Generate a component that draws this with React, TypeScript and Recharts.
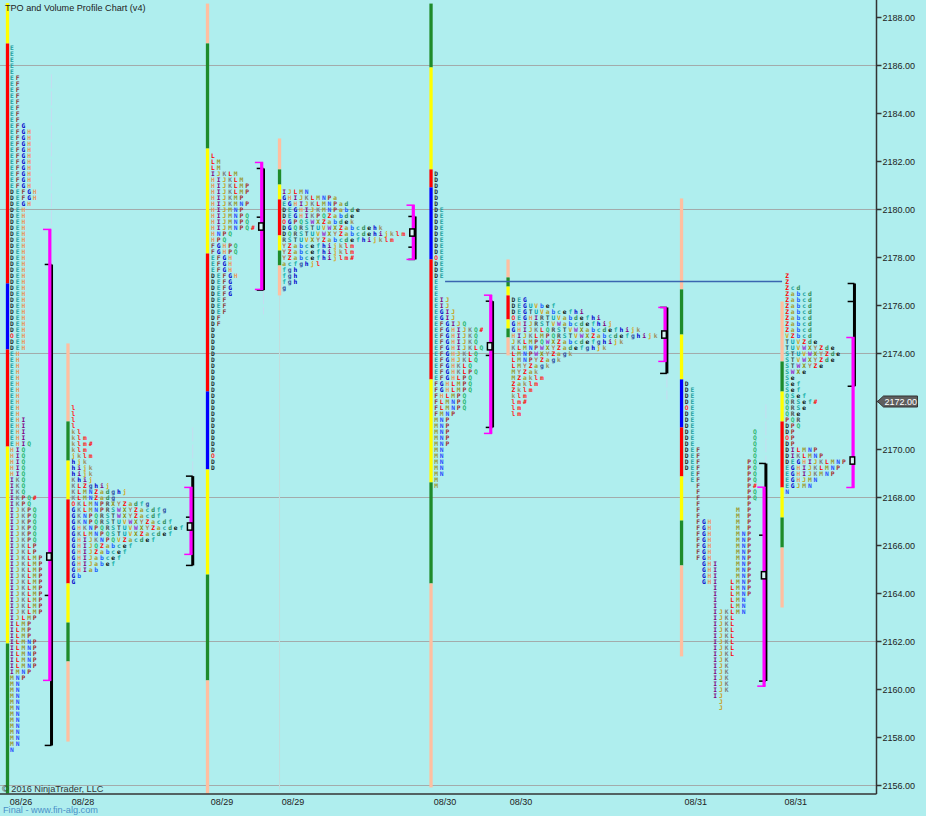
import React from "react";
import {
  ComposedChart,
  Line,
  ReferenceLine,
  Scatter,
  XAxis,
  YAxis,
} from "recharts";

const PEACH = "#FFBFA0";
const GREEN = "#1E8B2A";
const YELLOW = "#FFFF00";
const RED = "#FF0000";
const BLUE = "#0000FF";

const priceTicks = [
  2156, 2158, 2160, 2162, 2164, 2166, 2168, 2170, 2172, 2174, 2176, 2178, 2180,
  2182, 2184, 2186, 2188,
];
const gridPrices = [2156, 2162, 2168, 2174, 2180, 2186];
const lastPrice = 2172;

// x axis unit is one TPO column
const dateSlots = [3.7, 14.6, 39.08, 51.58, 78.35, 91.7, 122.5, 140.1];
const dateLabels = ["08/26", "08/28", "08/29", "08/29", "08/30", "08/30", "08/31", "08/31"];

const barSlots = [1.32, 11.97, 36.53, 49.21, 75.88, 89.44, 119.98, 137.68];
const letterSlots = [2.11, 12.94, 37.5, 50, 76.76, 90.4, 120.9, 138.56];
const valueSlots = [8.77, 33.63, 46.07, 72.76, 86.39, 117.08, 134.51, 150.18];
const rangeSlots = [9.07, 33.93, 46.39, 73.08, 86.71, 117.4, 134.83, 150.42];
const pocSlots = [8.63, 33.4, 45.95, 72.54, 86.21, 116.9, 134.45, 150.05];

const bandPrices = [
  [2188.6, 2186.92, 2176.92, 2174.17, 2170.12, 2161.92, 2155.67],
  [2174.42, 2171.17, 2169.54, 2167.92, 2164.42, 2162.79, 2161.17, 2157.83],
  [2188.58, 2186.92, 2182.54, 2178.17, 2172.42, 2169.17, 2164.79, 2160.38, 2155.67],
  [2182.96, 2181.67, 2181.04, 2180.42, 2178.92, 2178.29, 2177.67, 2176.42],
  [2188.58, 2185.92, 2181.67, 2180.92, 2177.92, 2172.92, 2168.63, 2164.42, 2155.92],
  [2177.92, 2177.17, 2176.79, 2176.42, 2175.42, 2175.04, 2174.67, 2173.92],
  [2180.46, 2176.67, 2174.79, 2172.92, 2170.92, 2168.88, 2167.04, 2165.17, 2161.38],
  [2176.17, 2173.67, 2172.42, 2171.17, 2168.42, 2167.17, 2165.92, 2163.42],
];
const bandColors = [
  [YELLOW, RED, BLUE, RED, YELLOW, GREEN],
  [PEACH, GREEN, YELLOW, RED, YELLOW, GREEN, PEACH],
  [PEACH, GREEN, YELLOW, RED, BLUE, YELLOW, GREEN, PEACH],
  [PEACH, GREEN, YELLOW, RED, YELLOW, GREEN, PEACH],
  [GREEN, YELLOW, RED, BLUE, RED, YELLOW, GREEN, PEACH],
  [PEACH, GREEN, YELLOW, RED, YELLOW, GREEN, PEACH],
  [PEACH, GREEN, YELLOW, BLUE, RED, YELLOW, GREEN, PEACH],
  [PEACH, GREEN, YELLOW, RED, YELLOW, GREEN, PEACH],
];

const valueHigh = [2179.17, 2168.42, 2181.96, 2180.18, 2176.43, 2175.92, 2168.43, 2174.67];
const valueLow = [2160.38, 2165.63, 2176.67, 2177.92, 2170.67, 2173.67, 2160.14, 2168.42];
const rangeHigh = [2177.71, 2168.89, 2181.71, 2179.71, 2176.18, 2175.92, 2169.42, 2176.92];
const rangeLow = [2157.67, 2165.17, 2176.64, 2177.92, 2170.92, 2173.17, 2160.35, 2172.64];
const midTicks = [2163.92, 2167.18, 2179.68, 2178.43, 2173.92, null, 2166.43, 2176.17];
const pocPrices = [2165.54, 2166.79, 2179.29, 2179.04, 2174.3, 2174.79, 2164.76, 2169.54];

const wicks: [number, number, number][] = [
  [9.07, 2185.63, 2179.17],
  [33.93, 2170.92, 2168.89],
  [46.39, 2176.64, 2175.63],
  [117.4, 2173.17, 2172.08],
  [134.83, 2171.88, 2169.42],
];
const faintLine = [49.21, 2176.42, 2155.83];
const priorLevel = { price: 2177, from: 78.35, to: 137.68 };

const topPrices = [2186.75, 2171.75, 2182.25, 2180.75, 2181.5, 2176.25, 2172.75, 2177.25];

// letters per 0.25 row top to bottom, [letters, how many rows]
type Rows = [string, number][];

const tpo0826: Rows = [
  ["E", 5], ["EF", 8], ["EFG", 1], ["EFGH", 10], ["DEFGH", 2], ["DEGH", 1], ["DEH", 21],
  ["OEH", 1], ["DEH", 2], ["EH", 11], ["EHI", 4], ["EHIQ", 1], ["HIQ", 5], ["IKQ", 3],
  ["IKPQ#", 1], ["IKPQ", 1], ["IJKPQ", 6], ["IJKLP", 2], ["IJKLMP", 10], ["IJLMP", 1],
  ["ILMP", 3], ["ILMNP", 5], ["IMNP", 1], ["MNP", 1], ["MN", 11], ["N", 1],
];
const tpo0828: Rows = [
  ["l", 4], ["kl", 1], ["klm", 1], ["klm#", 1], ["klm", 1], ["jklm", 1], ["hjk", 1], ["hijk", 2],
  ["Khij", 1], ["KLZghij", 1], ["KLMNZadghj", 1], ["KLMNZadg", 1], ["OKLMNPRXYZadfg", 1],
  ["GKLMNPRSWXYZacdfg", 1], ["GKNPQRSTWXYZacdf", 1], ["GKNPQRSTUVWXYZacdf", 1],
  ["GHKNPQRSTUVWXYZacdef", 1], ["GKLMNPQSTUVXZacdef", 1], ["GHIJKNPQVZacdef", 1],
  ["GHIJQZabcef", 1], ["GHIJZabcef", 1], ["GHIJabcef", 1], ["GHIJabef", 1], ["GHIab", 1],
  ["Gb", 1], ["G", 1],
];
const tpo0829a: Rows = [
  ["L", 1], ["LM", 2], ["IJKLM", 1], ["HIJKLM", 1], ["HIJKLMP", 2], ["HIJKMP", 1], ["HIJKMNP", 1],
  ["HIJMNP", 1], ["HIJMNPQ", 2], ["HIJMNPQ#", 1], ["HNPQ", 1], ["HPQ", 1], ["FGHPQ", 2],
  ["EFGH", 3], ["DEFGH", 1], ["DEFG", 3], ["DEF", 3], ["DF", 2], ["D", 21], ["O", 1], ["D", 2],
];
const tpo0829b: Rows = [
  ["IJLMN", 1], ["GHIJKLMNPa", 1], ["EGHIJKLMNPad", 1], ["DEGHIJKMNPabde", 1],
  ["DEGHIKPQZabde", 1], ["OGPQSWXZabdek", 1], ["DGQRSTUVWXZabcdehk", 1],
  ["DQRSTUVWXYZabcdehijklm", 1], ["RSTUVXYZabcdefhijklm", 1], ["YZabcefhijklm", 2],
  ["YZabcefhijlm#", 1], ["acfghjl", 1], ["fgh", 3], ["g", 1],
];
const tpo0830a: Rows = [
  ["D", 6], ["DE", 8], ["OE", 1], ["DE", 3], ["E", 3], ["EIJ", 2], ["EGIJ", 2], ["EFGIJQ", 1],
  ["EFGHIJKQ#", 1], ["EFGHIJKQ", 2], ["EFGHIJKLQ", 1], ["EFGHJKLQ", 2], ["EFGHKLQ", 1],
  ["EFGHKLPQ", 1], ["EFGHLPQ", 1], ["FGHLMPQ", 2], ["FHLMPQ", 1], ["FLMNPQ", 2], ["FMNP", 1],
  ["MNP", 5], ["MN", 5], ["M", 2],
];
const tpo0830b: Rows = [
  ["DEG", 1], ["DEGUVbef", 1], ["DEGTUVabcefhi", 1], ["OEGHIRTUVabdefhi", 1],
  ["GHIJRSTVWabcdefhij", 1], ["GHIJKLQRSTVWXabcdefhijk", 1], ["HIJKLMPQRSTVWXZabcdefghijk", 1],
  ["JKLMPQWXZabcdefghijk", 1], ["KLMNPWXYZadefghjk", 1], ["LMNPWXYZagk", 1], ["LMNPYZagk", 1],
  ["LMYZagk", 1], ["MYZak", 1], ["MZaklm", 1], ["Zaklm", 1], ["Zklm", 1], ["klm", 1], ["lm#", 1],
  ["lm", 2],
];
// this session keeps one fixed column per period, blanks hold the gaps
const tpo0831a: Rows = [
  ["D", 1], ["DE", 3], ["OE", 1], ["DE", 3], ["DE          Q", 3], ["DEF         Q", 2],
  ["DEF        PQ", 2], [" EF        PQ", 2], ["  F        P#", 1], ["  F        PQ", 2],
  ["  F        P", 1], ["  F      M P", 2], ["  FGH    M P", 2], ["  FGH    MNP", 5],
  ["   GHI   MNP", 3], ["   GHI  LMNP", 1], ["     I  LMNP", 2], ["     I  LMN", 2],
  ["     IJKLMN", 1], ["     IJKL", 7], ["     IJK", 6], ["     IJ", 1], ["      J", 2],
];
const tpo0831b: Rows = [
  ["Z", 2], ["Zcd", 1], ["Zabcd", 7], ["VZbcd", 1], ["TUVZde", 1], ["TUVWXYZde", 1],
  ["STUVWXYZde", 1], ["STVWXYZde", 1], ["STWXYZe", 1], ["SWXe", 1], ["Se", 1], ["Sef", 2],
  ["QSef", 1], ["QRSef#", 1], ["QRSe", 1], ["QRe", 1], ["PQR", 1], ["DPQ", 1], ["DP", 1],
  ["OP", 1], ["DP", 1], ["DILMNP", 1], ["DIKLMNP", 1], ["DEGHIJKLMNP", 1], ["EGHIJKLMNP", 1],
  ["EGHIJKMNP", 1], ["EGHJMN", 1], ["EGJMN", 1], ["N", 1],
];
const sessions = [tpo0826, tpo0828, tpo0829a, tpo0829b, tpo0830a, tpo0830b, tpo0831a, tpo0831b];

const letterColors: Record<string, string> = {
  D: "#1f2f2f", E: "#1f9f9f", F: "#8b3a3a", G: "#0000cd", H: "#e9965a", I: "#800080",
  J: "#c8a020", K: "#808080", L: "#ff0000", M: "#9a9a30", N: "#2a4fff", O: "#ff3030",
  P: "#a52a2a", Q: "#2eb872", R: "#505050", S: "#20a8a0", T: "#2f4f4f", U: "#00a0b0",
  V: "#daa520", W: "#9932cc", X: "#8b8b00", Y: "#b08060", Z: "#ff0000", a: "#a8a030",
  b: "#2060ff", c: "#20a0a0", d: "#2e8b57", e: "#000000", f: "#20b2aa", g: "#2f4f9f",
  h: "#0000cd", i: "#800080", j: "#daa520", k: "#a09060", l: "#ff2020", m: "#ff2020",
  "#": "#ff0000",
};

const tpoPoints: { x: number; y: number; letter: string }[] = [];
sessions.forEach((rows, s) => {
  let price = topPrices[s];
  rows.forEach(([letters, count]) => {
    for (let r = 0; r < count; r++) {
      letters.split("").forEach((letter, c) => {
        if (letter !== " ") tpoPoints.push({ x: letterSlots[s] + c, y: price, letter });
      });
      price -= 0.25;
    }
  });
});

const pocPoints = pocSlots.map((x, i) => ({ x, y: pocPrices[i] }));

const seg = (x1: number, y1: number, x2: number, y2: number) => [
  { x: x1, y: y1 },
  { x: x2, y: y2 },
];

const LetterShape = (props: any) => (
  <text
    x={props.cx}
    y={props.cy}
    dy={2.3}
    textAnchor="middle"
    fontFamily="'DejaVu Sans Mono'"
    fontWeight="bold"
    fontSize={6.3}
    fill={letterColors[props.payload.letter]}
  >
    {props.payload.letter}
  </text>
);

const PocShape = (props: any) => (
  <rect
    x={props.cx - 2.3}
    y={props.cy - 3.6}
    width={4.6}
    height={7.2}
    fill="#d8f4f4"
    stroke="#000"
    strokeWidth={1.5}
  />
);

const PriceTick = (props: any) => {
  const { x, y, payload } = props;
  if (payload.value === lastPrice) {
    return (
      <g>
        <polygon
          points={`${x - 5},${y} ${x + 1},${y - 5.5} ${x + 35},${y - 5.5} ${x + 35},${y + 5.5} ${x + 1},${y + 5.5}`}
          fill="#5f5f5f"
          stroke="#333"
        />
        <text x={x + 2} y={y} dy={3.2} fontSize={9} fontFamily="'Liberation Sans'" fill="#fff">
          {payload.value.toFixed(2)}
        </text>
      </g>
    );
  }
  return (
    <text x={x} y={y} dy={3.2} fontSize={9} fontFamily="'Liberation Sans'" fill="#222">
      {payload.value.toFixed(2)}
    </text>
  );
};

const lineProps = { dataKey: "y", dot: false, activeDot: false, isAnimationActive: false };

const App = () => {
  return (
    <div
      style={{
        position: "absolute",
        left: 0,
        top: 0,
        width: 926,
        height: 816,
        background: "#AFEEEE",
        overflow: "hidden",
      }}
    >
      <ComposedChart
        width={926}
        height={816}
        margin={{ top: 0, right: 0, bottom: 0, left: 0 }}
      >
        <XAxis
          dataKey="x"
          type="number"
          domain={[0, 154.3]}
          allowDataOverflow
          ticks={dateSlots}
          interval={0}
          height={22}
          tickLine={false}
          tickMargin={-1}
          tickFormatter={(v: number) => dateLabels[dateSlots.indexOf(v)]}
          tick={{ fontSize: 9, fontFamily: "'Liberation Sans'", fill: "#222" }}
          stroke="#333"
          strokeWidth={1.5}
        />
        <YAxis
          dataKey="y"
          type="number"
          orientation="right"
          domain={[2155.646, 2188.729]}
          allowDataOverflow
          ticks={priceTicks}
          interval={0}
          width={49.5}
          tickSize={5}
          tickMargin={1}
          tick={<PriceTick />}
          stroke="#333"
          strokeWidth={1.5}
        />
        {gridPrices.map((p) => (
          <ReferenceLine key={p} y={p} stroke="#a3abab" strokeWidth={1} />
        ))}
        <Line
          {...lineProps}
          data={seg(faintLine[0], faintLine[1], faintLine[0], faintLine[2])}
          stroke="#c4dcdc"
          strokeWidth={1}
        />
        {wicks.map(([x, hi, lo], i) => (
          <Line
            key={`wick${i}`}
            {...lineProps}
            data={seg(x, hi, x, lo)}
            stroke="#c6dcf0"
            strokeWidth={1}
            strokeDasharray="14 3"
          />
        ))}
        {bandColors.map((colors, s) =>
          colors.map((color, i) => (
            <Line
              key={`band${s}-${i}`}
              {...lineProps}
              data={seg(barSlots[s], bandPrices[s][i], barSlots[s], bandPrices[s][i + 1])}
              stroke={color}
              strokeWidth={3.3}
            />
          ))
        )}
        <Line
          {...lineProps}
          data={seg(priorLevel.from, priorLevel.price, priorLevel.to, priorLevel.price)}
          stroke="#3a66b0"
          strokeWidth={1.5}
        />
        {rangeSlots.map((x, s) => (
          <React.Fragment key={`range${s}`}>
            <Line {...lineProps} data={seg(x, rangeHigh[s], x, rangeLow[s])} stroke="#000" strokeWidth={3} />
            <Line {...lineProps} data={seg(x - 1.2, rangeHigh[s], x, rangeHigh[s])} stroke="#000" strokeWidth={1.5} />
            <Line {...lineProps} data={seg(x - 1.2, rangeLow[s], x, rangeLow[s])} stroke="#000" strokeWidth={1.5} />
            {midTicks[s] !== null && (
              <Line
                {...lineProps}
                data={seg(x - 1.2, midTicks[s] as number, x, midTicks[s] as number)}
                stroke="#000"
                strokeWidth={1.5}
              />
            )}
          </React.Fragment>
        ))}
        {valueSlots.map((x, s) => (
          <React.Fragment key={`value${s}`}>
            <Line {...lineProps} data={seg(x, valueHigh[s], x, valueLow[s])} stroke="#FF00FF" strokeWidth={3.2} />
            <Line {...lineProps} data={seg(x - 1.2, valueHigh[s], x + 0.25, valueHigh[s])} stroke="#FF00FF" strokeWidth={1.5} />
            <Line {...lineProps} data={seg(x - 1.2, valueLow[s], x + 0.25, valueLow[s])} stroke="#FF00FF" strokeWidth={1.5} />
          </React.Fragment>
        ))}
        <Scatter data={tpoPoints} shape={<LetterShape />} isAnimationActive={false} />
        <Scatter data={pocPoints} shape={<PocShape />} isAnimationActive={false} />
      </ComposedChart>
      <div
        style={{
          position: "absolute",
          left: 5,
          top: 3,
          font: "9.1px 'Liberation Sans'",
          color: "#222",
          whiteSpace: "nowrap",
        }}
      >
        TPO and Volume Profile Chart (v4)
      </div>
      <div
        style={{
          position: "absolute",
          left: 2,
          top: 784,
          font: "9.2px 'Liberation Sans'",
          color: "#333",
          whiteSpace: "nowrap",
        }}
      >
        © 2016 NinjaTrader, LLC
      </div>
      <div
        style={{
          position: "absolute",
          left: 3,
          top: 805,
          font: "9.2px 'Liberation Sans'",
          color: "#4a90c8",
          whiteSpace: "nowrap",
        }}
      >
        Final - www.fin-alg.com
      </div>
    </div>
  );
};

export default App;
